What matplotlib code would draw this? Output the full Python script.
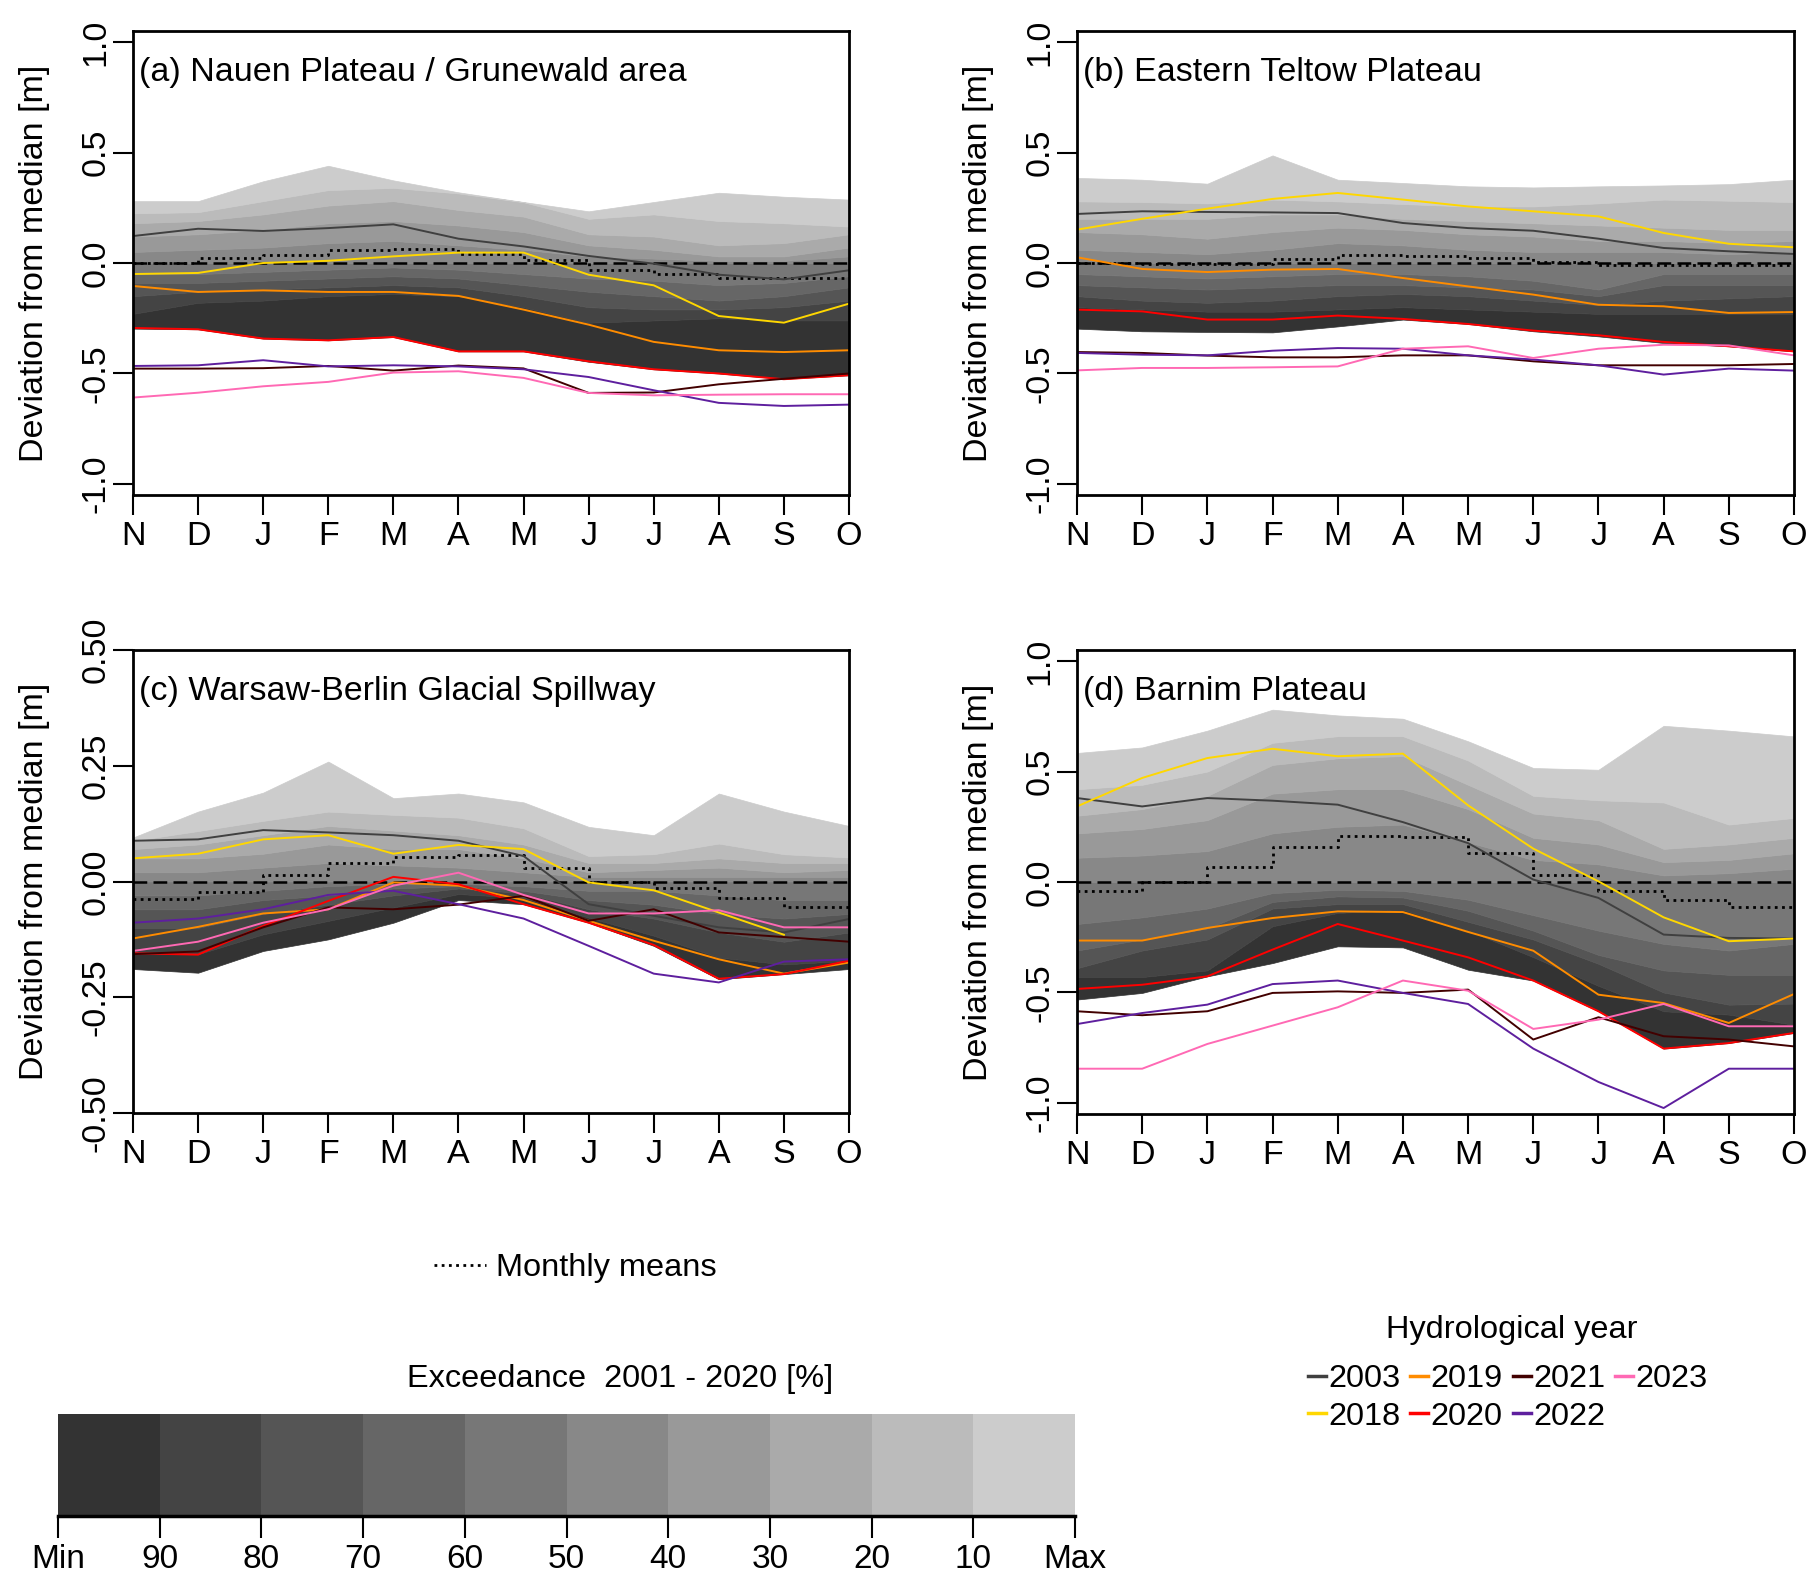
import numpy as np
import matplotlib
matplotlib.use("Agg")
import matplotlib.pyplot as plt
from matplotlib.lines import Line2D

plt.rcParams['font.family'] = ['Liberation Sans', 'DejaVu Sans']

# hydrological year months (Nov - Oct)
months = ['N', 'D', 'J', 'F', 'M', 'A', 'M', 'J', 'J', 'A', 'S', 'O']
x = np.arange(len(months))

# exceedance classes of the colour bar, from Min to Max
exc_labels = ['Min', '90', '80', '70', '60', '50', '40', '30', '20', '10', 'Max']
grays = ['#333333', '#444444', '#555555', '#666666', '#777777',
         '#888888', '#999999', '#AAAAAA', '#BBBBBB', '#CCCCCC']

years = ['2003', '2018', '2019', '2020', '2021', '2022', '2023']
year_colors = ['#404040', '#FFD700', '#FF8C00', '#FF0000', '#420000', '#5E1F9E', '#FF69B4']

# ---- (a) Nauen Plateau / Grunewald area
# band boundaries: Min, 90, 80, 70, 60, 50 (median), 40, 30, 20, 10 % exceedance, Max
a_bounds = [
    [-0.297, -0.30, -0.342, -0.35, -0.335, -0.40, -0.40, -0.447, -0.481, -0.50, -0.525, -0.508],
    [-0.23, -0.18, -0.17, -0.15, -0.14, -0.15, -0.20, -0.27, -0.26, -0.25, -0.26, -0.26],
    [-0.15, -0.13, -0.12, -0.11, -0.10, -0.11, -0.15, -0.20, -0.21, -0.21, -0.20, -0.17],
    [-0.09, -0.09, -0.08, -0.07, -0.06, -0.07, -0.10, -0.13, -0.15, -0.17, -0.15, -0.11],
    [-0.05, -0.05, -0.04, -0.03, -0.02, -0.03, -0.05, -0.07, -0.08, -0.10, -0.09, -0.06],
    [0.0] * 12,
    [0.05, 0.06, 0.07, 0.09, 0.10, 0.08, 0.06, 0.03, 0.02, 0.01, 0.01, 0.03],
    [0.12, 0.13, 0.15, 0.18, 0.19, 0.17, 0.14, 0.08, 0.06, 0.03, 0.03, 0.07],
    [0.18, 0.19, 0.22, 0.26, 0.28, 0.24, 0.21, 0.13, 0.12, 0.08, 0.09, 0.13],
    [0.225, 0.23, 0.28, 0.33, 0.34, 0.315, 0.275, 0.20, 0.22, 0.19, 0.18, 0.165],
    [0.28, 0.28, 0.37, 0.44, 0.374, 0.32, 0.276, 0.234, 0.276, 0.318, 0.30, 0.287],
]
a_means = [0.0, 0.023, 0.035, 0.057, 0.062, 0.042, 0.012, -0.03, -0.048, -0.066, -0.068, -0.068]
a_lines = {
    '2003': [0.122, 0.155, 0.145, 0.158, 0.175, 0.11, 0.075, 0.032, -0.003, -0.053, -0.074, -0.033],
    '2018': [-0.05, -0.045, 0.0, 0.01, 0.03, 0.047, 0.047, -0.053, -0.101, -0.24, -0.27, -0.184],
    '2019': [-0.104, -0.131, -0.124, -0.131, -0.131, -0.149, -0.211, -0.279, -0.357, -0.395, -0.403, -0.395],
    '2020': [-0.294, -0.30, -0.342, -0.35, -0.335, -0.40, -0.40, -0.445, -0.481, -0.50, -0.526, -0.508],
    '2021': [-0.478, -0.478, -0.476, -0.466, -0.487, -0.464, -0.477, -0.588, -0.586, -0.549, -0.524, -0.50],
    '2022': [-0.466, -0.463, -0.44, -0.468, -0.463, -0.468, -0.481, -0.516, -0.576, -0.633, -0.647, -0.641],
    '2023': [-0.609, -0.587, -0.558, -0.538, -0.496, -0.49, -0.52, -0.588, -0.599, -0.596, -0.594, -0.594],
}

# ---- (b) Eastern Teltow Plateau
b_bounds = [
    [-0.297, -0.309, -0.312, -0.314, -0.287, -0.256, -0.276, -0.309, -0.332, -0.362, -0.377, -0.40],
    [-0.20, -0.21, -0.22, -0.22, -0.21, -0.20, -0.21, -0.22, -0.23, -0.23, -0.23, -0.23],
    [-0.15, -0.17, -0.18, -0.17, -0.15, -0.14, -0.15, -0.17, -0.19, -0.17, -0.16, -0.15],
    [-0.10, -0.11, -0.12, -0.11, -0.10, -0.10, -0.11, -0.12, -0.15, -0.10, -0.10, -0.10],
    [-0.05, -0.06, -0.07, -0.06, -0.05, -0.05, -0.06, -0.08, -0.12, -0.05, -0.05, -0.05],
    [0.0] * 12,
    [0.06, 0.05, 0.04, 0.06, 0.09, 0.08, 0.06, 0.05, 0.05, 0.05, 0.04, 0.05],
    [0.14, 0.13, 0.11, 0.14, 0.16, 0.15, 0.13, 0.12, 0.10, 0.10, 0.09, 0.10],
    [0.20, 0.20, 0.20, 0.22, 0.22, 0.20, 0.19, 0.18, 0.17, 0.16, 0.15, 0.15],
    [0.279, 0.276, 0.27, 0.287, 0.279, 0.267, 0.256, 0.256, 0.27, 0.287, 0.282, 0.276],
    [0.385, 0.377, 0.359, 0.487, 0.377, 0.362, 0.347, 0.342, 0.347, 0.351, 0.357, 0.377],
]
b_means = [0.0, -0.003, -0.003, 0.02, 0.038, 0.03, 0.024, 0.004, -0.008, -0.008, -0.008, -0.01]
b_lines = {
    '2003': [0.222, 0.234, 0.231, 0.229, 0.226, 0.181, 0.158, 0.146, 0.11, 0.068, 0.053, 0.041],
    '2018': [0.151, 0.20, 0.246, 0.29, 0.317, 0.287, 0.256, 0.234, 0.211, 0.136, 0.087, 0.071],
    '2019': [0.026, -0.027, -0.041, -0.03, -0.027, -0.068, -0.106, -0.143, -0.189, -0.196, -0.226, -0.222],
    '2020': [-0.211, -0.219, -0.256, -0.256, -0.238, -0.253, -0.276, -0.306, -0.327, -0.357, -0.377, -0.40],
    '2021': [-0.403, -0.407, -0.419, -0.427, -0.427, -0.418, -0.418, -0.445, -0.463, -0.463, -0.463, -0.457],
    '2022': [-0.407, -0.415, -0.418, -0.397, -0.385, -0.388, -0.418, -0.437, -0.463, -0.505, -0.478, -0.487],
    '2023': [-0.486, -0.475, -0.475, -0.472, -0.468, -0.388, -0.377, -0.43, -0.388, -0.37, -0.373, -0.418],
}

# ---- (c) Warsaw-Berlin Glacial Spillway
c_bounds = [
    [-0.189, -0.197, -0.15, -0.125, -0.089, -0.04, -0.049, -0.089, -0.139, -0.211, -0.20, -0.189],
    [-0.157, -0.157, -0.114, -0.085, -0.056, -0.027, -0.035, -0.078, -0.117, -0.164, -0.179, -0.171],
    [-0.10, -0.10, -0.07, -0.05, -0.03, -0.015, -0.025, -0.06, -0.08, -0.11, -0.13, -0.11],
    [-0.06, -0.06, -0.04, -0.03, -0.015, -0.01, -0.02, -0.04, -0.05, -0.07, -0.08, -0.07],
    [-0.03, -0.03, -0.02, -0.01, -0.005, -0.005, -0.01, -0.02, -0.02, -0.03, -0.04, -0.04],
    [0.0] * 12,
    [0.02, 0.02, 0.03, 0.04, 0.035, 0.03, 0.02, 0.01, 0.01, 0.01, 0.01, 0.01],
    [0.05, 0.05, 0.06, 0.08, 0.07, 0.07, 0.05, 0.02, 0.025, 0.03, 0.02, 0.025],
    [0.07, 0.08, 0.10, 0.12, 0.11, 0.10, 0.08, 0.04, 0.04, 0.05, 0.04, 0.04],
    [0.088, 0.109, 0.131, 0.151, 0.144, 0.138, 0.115, 0.055, 0.059, 0.082, 0.059, 0.052],
    [0.095, 0.151, 0.192, 0.259, 0.18, 0.19, 0.171, 0.118, 0.10, 0.19, 0.151, 0.12],
]
c_means = [-0.038, -0.022, 0.014, 0.041, 0.052, 0.057, 0.03, -0.002, -0.015, -0.035, -0.054, -0.054]
c_lines = {
    '2003': [0.088, 0.091, 0.111, 0.106, 0.10, 0.088, 0.055, -0.049, -0.074, -0.099, -0.11, -0.081],
    '2018': [0.05, 0.06, 0.091, 0.10, 0.06, 0.079, 0.07, -0.002, -0.019, -0.067, -0.115, np.nan],
    '2019': [-0.123, -0.098, -0.069, -0.06, -0.002, -0.009, -0.04, -0.085, -0.128, -0.168, -0.199, -0.175],
    '2020': [-0.155, -0.158, -0.096, -0.042, 0.01, -0.006, -0.049, -0.089, -0.137, -0.21, -0.20, -0.171],
    '2021': [-0.157, -0.151, -0.099, -0.056, -0.06, -0.05, -0.031, -0.085, -0.06, -0.11, -0.12, -0.13],
    '2022': [-0.089, -0.08, -0.06, -0.029, -0.02, -0.049, -0.08, -0.139, -0.199, -0.218, -0.173, -0.168],
    '2023': [-0.15, -0.13, -0.089, -0.06, -0.009, 0.019, -0.029, -0.069, -0.069, -0.062, -0.099, -0.099],
}

# ---- (d) Barnim Plateau
d_bounds = [
    [-0.532, -0.502, -0.427, -0.367, -0.291, -0.296, -0.397, -0.446, -0.585, -0.754, -0.729, -0.683],
    [-0.43, -0.43, -0.40, -0.20, -0.14, -0.125, -0.22, -0.34, -0.47, -0.585, -0.60, -0.646],
    [-0.39, -0.31, -0.26, -0.12, -0.10, -0.10, -0.18, -0.26, -0.37, -0.50, -0.555, -0.55],
    [-0.31, -0.26, -0.21, -0.09, -0.065, -0.07, -0.13, -0.22, -0.33, -0.40, -0.42, -0.42],
    [-0.19, -0.16, -0.12, -0.05, -0.035, -0.04, -0.08, -0.15, -0.22, -0.28, -0.31, -0.28],
    [0.0] * 12,
    [0.11, 0.12, 0.14, 0.22, 0.25, 0.26, 0.18, 0.10, 0.08, 0.03, 0.04, 0.06],
    [0.22, 0.24, 0.28, 0.40, 0.42, 0.42, 0.33, 0.20, 0.17, 0.09, 0.10, 0.13],
    [0.30, 0.33, 0.39, 0.53, 0.56, 0.57, 0.44, 0.31, 0.28, 0.15, 0.17, 0.20],
    [0.42, 0.44, 0.50, 0.63, 0.66, 0.66, 0.55, 0.39, 0.37, 0.36, 0.26, 0.29],
    [0.584, 0.609, 0.685, 0.78, 0.754, 0.739, 0.637, 0.516, 0.508, 0.707, 0.685, 0.659],
]
d_means = [-0.042, 0.0, 0.066, 0.157, 0.21, 0.204, 0.13, 0.03, -0.042, -0.083, -0.115, -0.115]
d_lines = {
    '2003': [0.38, 0.342, 0.38, 0.368, 0.35, 0.271, 0.176, 0.011, -0.072, -0.238, -0.253, -0.256],
    '2018': [0.342, 0.471, 0.561, 0.603, 0.569, 0.581, 0.347, 0.151, 0.003, -0.16, -0.268, -0.256],
    '2019': [-0.265, -0.265, -0.208, -0.163, -0.133, -0.136, -0.226, -0.311, -0.51, -0.548, -0.638, -0.507],
    '2020': [-0.484, -0.465, -0.427, -0.306, -0.19, -0.265, -0.341, -0.446, -0.585, -0.754, -0.729, -0.683],
    '2021': [-0.585, -0.603, -0.585, -0.502, -0.495, -0.502, -0.487, -0.713, -0.612, -0.698, -0.713, -0.744],
    '2022': [-0.643, -0.593, -0.555, -0.462, -0.446, -0.502, -0.552, -0.754, -0.905, -1.023, -0.845, -0.845],
    '2023': [-0.845, -0.845, -0.733, -0.65, -0.567, -0.446, -0.492, -0.665, -0.623, -0.552, -0.653, -0.653],
}

FS = 24.5      # axis text
LFS = 23.4     # legend text
W, H = 1819, 1587

fig = plt.figure(figsize=(W / 100, H / 100), dpi=100)


def draw_panel(rect, bounds, means, lines, title, ylim, yticks, yticklabels):
    ax = fig.add_axes(rect)
    # exceedance bands, darkest at the bottom
    for i in range(len(grays)):
        ax.fill_between(x, bounds[i], bounds[i + 1], facecolor=grays[i],
                        edgecolor=grays[i], linewidth=0.5)
    ax.axhline(0, color='black', lw=1.8, ls=(0, (5.5, 2.5)))
    ax.plot(x, means, color='black', lw=2.0, ls=(0, (1, 1.6)), drawstyle='steps-post')
    for yr, col in zip(years, year_colors):
        ax.plot(x, lines[yr], color=col, lw=1.4)

    ax.set_xlim(0, 11)
    ax.set_ylim(*ylim)
    ax.set_xticks(x)
    ax.set_xticklabels(months)
    ax.set_yticks(yticks)
    ax.set_yticklabels(yticklabels, rotation=90, va='center')
    ax.tick_params(axis='x', length=14.4, width=1.5, pad=4.5, labelsize=FS)
    ax.tick_params(axis='y', length=14.4, width=1.5, pad=1, labelsize=FS)
    for s in ax.spines.values():
        s.set_linewidth(2)
    ax.set_ylabel('Deviation from median [m]', fontsize=FS, va='center')
    ax.yaxis.set_label_coords(-0.137, 0.5)
    ax.text(0.008, 0.91, title, transform=ax.transAxes, fontsize=FS,
            ha='left', va='center')
    return ax


ticks_1 = [-1.0, -0.5, 0.0, 0.5, 1.0]
tlab_1 = ['-1.0', '-0.5', '0.0', '0.5', '1.0']
ticks_c = [-0.5, -0.25, 0.0, 0.25, 0.5]
tlab_c = ['-0.50', '-0.25', '0.00', '0.25', '0.50']

draw_panel([133 / W, 1 - 495 / H, 716 / W, 464 / H], a_bounds, a_means, a_lines,
           '(a) Nauen Plateau / Grunewald area', (-1.05, 1.05), ticks_1, tlab_1)
draw_panel([1077 / W, 1 - 495 / H, 717 / W, 464 / H], b_bounds, b_means, b_lines,
           '(b) Eastern Teltow Plateau', (-1.05, 1.05), ticks_1, tlab_1)
draw_panel([133 / W, 1 - 1113 / H, 716 / W, 463 / H], c_bounds, c_means, c_lines,
           '(c) Warsaw-Berlin Glacial Spillway', (-0.5, 0.5), ticks_c, tlab_c)
draw_panel([1077 / W, 1 - 1114 / H, 717 / W, 464 / H], d_bounds, d_means, d_lines,
           '(d) Barnim Plateau', (-1.05, 1.05), ticks_1, tlab_1)

# monthly means legend
fig.legend(handles=[Line2D([], [], color='black', lw=2.0, ls=(0, (1, 1.6)))],
           labels=['Monthly means'], loc='center left',
           bbox_to_anchor=(434 / W, 1 - 1268 / H), frameon=False, fontsize=LFS,
           borderpad=0, borderaxespad=0, handlelength=1.6, handletextpad=0.3)

# exceedance colour bar
fig.text(620 / W, 1 - 1379 / H, 'Exceedance  2001 - 2020 [%]', fontsize=LFS,
         ha='center', va='center')
cax = fig.add_axes([58 / W, 1 - 1516 / H, 1017 / W, 102 / H])
cax.bar(np.arange(len(grays)), np.ones(len(grays)), width=1, align='edge',
        color=grays, linewidth=0)
cax.set_xlim(0, len(grays))
cax.set_ylim(0, 1)
cax.set_xticks(np.arange(len(exc_labels)))
cax.set_xticklabels(exc_labels)
cax.set_yticks([])
for side in ['left', 'right', 'top']:
    cax.spines[side].set_visible(False)
cax.spines['bottom'].set_linewidth(2.5)
cax.tick_params(axis='x', length=16, width=1.5, pad=4.5, labelsize=24)

# hydrological year legend
fig.text(1512 / W, 1 - 1330 / H, 'Hydrological year', fontsize=LFS,
         ha='center', va='center')
handles = [Line2D([], [], color=c, lw=2.5) for c in year_colors]
fig.legend(handles=handles, labels=years, ncol=4, loc='upper left',
           bbox_to_anchor=(1308 / W, 1 - 1364 / H), frameon=False, fontsize=LFS,
           borderpad=0, borderaxespad=0, handlelength=0.55, handletextpad=0.08,
           columnspacing=0.3, labelspacing=0.24)

fig.savefig('out.png', dpi=100)
